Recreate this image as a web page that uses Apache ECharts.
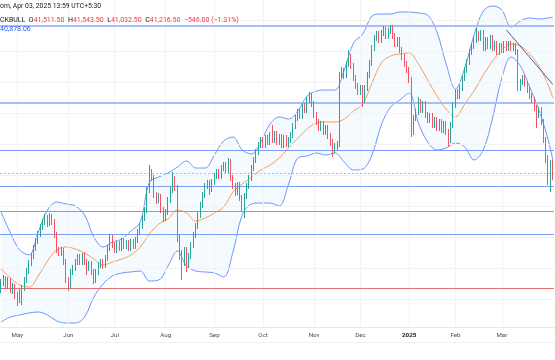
<!DOCTYPE html>
<html><head><meta charset="utf-8">
<script src="https://cdn.jsdelivr.net/npm/echarts@6/dist/echarts.min.js"></script>
<style>html,body{margin:0;padding:0;background:#fff}#c{width:555px;height:360px}</style>
</head><body><div id="c"></div>
<script>
// daily candles: [open, high, low, close]
const candles = [
[38290,38565,38215,38490],[38465,38665,38390,38590],[38565,38640,38315,38390],[38390,38615,38315,38540],
[38515,38590,38215,38290],[38290,38465,38190,38390],[38390,38440,38065,38140],[38165,38240,37890,38040],
[38040,38315,37965,38240],[38040,38415,37915,38340],[38340,38615,38265,38540],[38540,38840,38465,38765],
[38765,39040,38690,38965],[38965,39215,38890,39140],[39140,39415,39065,39340],[39340,39590,39265,39515],
[39515,39765,39440,39690],[39690,39940,39615,39865],[39865,40065,39790,39990],[39990,40190,39915,40090],
[40090,40165,39865,39940],[39965,40215,39890,40140],[40115,40190,39915,39990],[39990,40065,39590,39665],
[39665,39740,39215,39290],[39290,39365,39140,39215],[39215,39365,39140,39290],[39265,39340,38915,38990],
[38990,39065,38465,38540],[38540,38615,38265,38390],[38390,38815,38315,38740],[38740,38915,38665,38840],
[38840,39065,38765,38990],[38990,39190,38915,39115],[39115,39190,38915,38990],[38990,39215,38915,39140],
[39140,39240,38915,38990],[38990,39065,38665,38840],[38840,39015,38765,38940],[38940,39015,38665,38740],
[38740,38815,38440,38540],[38540,38815,38465,38740],[38740,38990,38665,38915],[38915,39065,38840,38990],
[38990,39065,38815,38890],[38915,39165,38840,39090],[39090,39415,39015,39340],[39340,39690,39265,39590],
[39590,39665,39340,39415],[39415,39490,39215,39290],[39290,39515,39215,39440],[39440,39515,39265,39340],
[39340,39590,39265,39515],[39515,39590,39315,39390],[39390,39540,39315,39465],[39465,39540,39265,39340],
[39340,39565,39265,39490],[39490,39565,39315,39390],[39390,39615,39315,39540],[39540,39815,39465,39740],
[39740,39965,39665,39890],[39890,40165,39815,40090],[40090,40365,40015,40290],[40290,40865,40215,40790],
[40790,41415,40715,41240],[41240,41315,41015,41090],[41090,41165,40590,40665],[40665,40740,40440,40540],
[40540,40715,40465,40640],[40615,40690,40215,40290],[40290,40365,39990,40090],[40090,40315,40015,40240],
[40240,40615,40165,40540],[40540,40865,40465,40790],[40790,41240,40715,41090],[41065,41140,40765,40840],
[40840,40915,39490,39590],[39590,39665,39040,39165],[39165,39290,38540,38965],[38965,39365,38890,39290],
[39290,39365,38740,38915],[38915,39215,38840,39140],[39140,39490,39065,39415],[39415,39740,39340,39665],
[39665,39965,39590,39890],[39890,40240,39815,40165],[40165,40490,40090,40415],[40415,40740,40340,40665],
[40665,40965,40590,40890],[40890,41040,40815,40965],[40965,41040,40665,40815],[40815,41065,40740,40990],
[40990,41215,40915,41140],[41140,41315,41065,41240],[41240,41315,41065,41140],[41140,41415,41065,41340],
[41340,41490,41265,41415],[41415,41490,41215,41290],[41290,41590,41215,41490],[41490,41565,41015,41090],
[41090,41165,40815,40890],[40890,40965,40640,40740],[40740,40990,40665,40915],[40915,40990,40515,40590],
[40590,40665,40240,40390],[40390,40715,40090,40640],[40640,40965,40565,40890],[40890,41165,40815,41090],
[41090,41415,41015,41340],[41340,41615,41265,41540],[41540,41815,41465,41740],[41740,41990,41665,41915],
[41915,42115,41840,42040],[42040,42115,41840,41915],[41915,42165,41840,42090],[42090,42165,41915,41990],
[41990,42240,41915,42165],[42165,42415,41965,42040],[42040,42265,41965,42190],[42190,42265,41915,41990],
[41990,42190,41915,42115],[42115,42190,41840,41915],[41915,42165,41840,42090],[42090,42165,41865,41940],
[41940,42115,41865,42040],[42040,42240,41965,42165],[42165,42465,42090,42390],[42390,42665,42315,42590],
[42590,42815,42515,42740],[42740,42815,42565,42640],[42640,42965,42565,42890],[42890,42965,42715,42790],
[42790,43115,42715,43040],[43040,43240,42965,43140],[43140,43215,42865,42940],[42940,43015,42590,42665],
[42665,42740,42415,42490],[42490,42565,42265,42340],[42340,42515,42265,42440],[42440,42515,42165,42240],
[42240,42415,42165,42340],[42340,42415,42065,42140],[42140,42215,41890,41990],[41990,42065,41615,41790],
[41790,41965,41715,41890],[41890,42015,41790,41940],[41940,43740,41865,43665],[43665,43865,43590,43790],
[43765,43840,43565,43640],[43665,44015,43590,43940],[43940,44290,43865,44140],[44115,44190,43815,43890],
[43890,43965,43515,43590],[43590,43665,43315,43390],[43390,43465,43165,43240],[43240,43415,43165,43340],
[43340,43415,42865,43040],[43040,43415,42965,43340],[43340,43740,43265,43665],[43665,44040,43590,43965],
[43965,44415,43890,44340],[44340,44665,44265,44590],[44590,44765,44515,44690],[44690,44765,44465,44540],
[44540,44790,44465,44715],[44715,44890,44640,44790],[44790,44865,44565,44640],[44640,44840,44565,44765],
[44765,44915,44690,44840],[44840,44915,44565,44640],[44640,44715,44365,44440],[44440,44615,44365,44540],
[44540,44615,44215,44290],[44290,44365,44040,44115],[44115,44190,43865,43940],[43940,44015,43715,43790],
[43790,43865,43465,43540],[43540,43615,42115,42290],[42290,42665,42165,42590],[42590,42815,42515,42740],
[42740,43115,42665,43040],[42990,43065,42715,42790],[42790,43015,42715,42940],[42940,43015,42590,42665],
[42665,42740,42465,42540],[42540,42715,42465,42640],[42640,42715,42340,42415],[42415,42615,42340,42540],
[42540,42615,42265,42340],[42340,42565,42265,42490],[42490,42565,42215,42290],[42290,42515,42215,42440],
[42440,42515,42165,42240],[42240,42315,41865,42040],[42040,42490,41965,42415],[42415,42990,42340,42915],
[42915,43315,42840,43240],[43240,43315,43065,43140],[43140,43415,43065,43340],[43340,43665,43265,43590],
[43590,43865,43515,43790],[43790,44065,43715,43990],[43990,44315,43915,44240],[44240,44465,44165,44390],
[44390,44615,44315,44540],[44540,44840,44465,44690],[44690,44765,44515,44590],[44590,44790,44515,44715],
[44715,44790,44265,44340],[44340,44615,44265,44540],[44540,44615,44315,44390],[44390,44665,44315,44590],
[44590,44665,44265,44340],[44340,44515,44265,44440],[44440,44515,44165,44240],[44240,44465,44165,44390],
[44390,44465,44215,44290],[44290,44515,44215,44440],[44440,44515,44265,44340],[44340,44515,44265,44440],
[44440,44515,44265,44340],[44340,44465,44265,44390],[44390,44465,44165,44240],[44240,44315,43265,43340],
[43340,43565,43265,43490],[43490,43665,43415,43590],[43590,43665,43365,43440],[43440,43515,43215,43290],
[43290,43365,43065,43140],[43140,43215,42965,43040],[43040,43115,42765,42840],[42840,42915,42340,42665],
[42665,42865,42590,42790],[42790,42865,42415,42490],[42490,42565,41965,42040],[42040,42115,41465,41540],
[41590,41665,40915,41090],[41140,41540,40740,41465],[41511.5,41543.5,41032.5,41216.5]
];
// month labels: [bar index, label]
const monthTicks = [[7,'May'],[29,'Jun'],[49,'Jul'],[71,'Aug'],[92,'Sep'],[113,'Oct'],[135,'Nov'],[155,'Dec'],[176,'2025'],[196,'Feb'],[216,'Mar']];
// Bollinger band readings at these bar indices
const bandIdx = [0,4,8,12,16,20,24,28,32,36,40,44,48,52,56,60,64,68,72,76,80,84,88,92,96,100,104,108,112,116,120,124,128,132,136,140,144,148,152,156,160,164,168,172,176,180,184,188,192,196,200,204,208,212,216,220,224,228,232,236,238];
const bbUpper = [40240,39715,39290,39165,39740,40290,40490,40440,40390,40165,39615,39365,39490,39565,39765,39990,40990,41115,41215,41365,41515,41340,41340,41665,42015,42115,41790,41690,41990,42440,42615,42565,42765,43140,43265,43290,43290,43790,44465,44690,45140,45190,45190,45240,45240,45215,45165,44740,43940,43315,43840,44665,45265,45390,45290,44865,45015,45090,45065,45090,45115];
const bbBasis = [38815,38590,38415,38365,38640,39015,39290,39365,39315,39215,39065,38915,38990,39065,39165,39365,39690,39940,40065,40290,40215,40015,40090,40215,40365,40740,40940,41115,41290,41415,41590,41840,42090,42315,42465,42490,42490,42565,42765,42940,43465,43965,44140,44190,44215,43940,43540,43140,42815,42615,42940,43265,43665,44015,44290,44440,44390,44190,43890,43415,43090];
const bbLower = [37490,37615,37665,37715,37740,37665,37515,37465,37465,37615,38115,38440,38640,38715,38740,38765,38515,38540,38890,39265,38890,38765,38740,38715,38615,39240,40165,40440,40465,40465,40390,40940,41590,41640,41715,41665,41715,41490,41290,41315,41665,42415,42865,43040,43215,42465,41990,41790,41840,41965,41865,41540,41790,42590,43590,44115,43890,43365,42790,42040,41540];
// horizontal levels
const majorLevels = [44890, 42965];
const minorLevels = [41790, 40878, 40265, 39690];
const redLevel = 38340;
const trendline = [[218, 44790], [238, 43430]];
const gridPrices = [45040, 44265, 43490, 42715, 41940, 41165, 40390, 39615, 38840, 38065];
const priceMin = 37365, priceMax = 45540;
const headerTime = 'om, Apr 03, 2025 13:59 UTC+5:30';
const symbolName = 'CKBULL';
const changeText = '\u2212546.00 (\u22121.31%)';
const indicatorValue = '40,878.06';

const chart = echarts.init(document.getElementById('c'));
const cats = candles.map((_, i) => String(i));
const ohlc = candles.map(r => [r[0], r[3], r[2], r[1]]);
const pair = arr => arr.map((v, k) => [bandIdx[k], v]);
const fillData = bbUpper.map((u, k) => [bandIdx[k], u - bbLower[k]]);
const monthMap = {};
monthTicks.forEach(([i, l]) => { monthMap[i] = l; });
const fmt = v => v.toLocaleString('en-US', {minimumFractionDigits: 2, maximumFractionDigits: 2});
const last = candles[candles.length - 1];
const FONT = 'Roboto';
const HS = 7;
const headerLine = `{k|${symbolName}}  {k|O}{v|${fmt(last[0])}}  {k|H}{v|${fmt(last[1])}}  {k|L}{v|${fmt(last[2])}}  {k|C}{v|${fmt(last[3])}}  {v|${changeText}}`;

const noSym = ['none', 'none'];
const option = {
  animation: false,
  backgroundColor: '#ffffff',
  title: [
    {text: headerTime, left: 0, top: 3, padding: 0, textStyle: {fontSize: 6.8, fontWeight: 'normal', color: '#131722', fontFamily: FONT}},
    {text: headerLine, left: 0, top: 17, padding: 0, textStyle: {fontSize: HS, fontWeight: 'normal', fontFamily: FONT,
      rich: {k: {color: '#131722', fontSize: HS, fontFamily: FONT}, v: {color: '#f23645', fontSize: HS, fontFamily: FONT}}}},
    {text: indicatorValue, left: 0, top: 26, padding: 0, textStyle: {fontSize: HS, fontWeight: 'normal', color: '#2962ff', fontFamily: FONT}}
  ],
  graphic: [{type: 'line', shape: {x1: 0, y1: 342.5, x2: 555, y2: 342.5}, style: {stroke: '#eef0f3', lineWidth: 1}, silent: true}],
  grid: {left: 0, right: 1, top: 0, bottom: 33},
  xAxis: {
    type: 'category', data: cats, boundaryGap: true,
    axisLine: {show: true, lineStyle: {color: '#e6e8ee'}},
    axisTick: {show: false},
    splitLine: {show: false},
    axisLabel: {
      interval: (i) => monthMap[i] !== undefined,
      formatter: (v, i) => monthMap[i] === '2025' ? '{y|2025}' : (monthMap[i] || ''),
      fontSize: 6.2, color: '#4a4d57', margin: 5, fontFamily: FONT,
      rich: {y: {fontSize: 6.2, color: '#131722', fontWeight: 'bold', fontFamily: FONT}}
    }
  },
  yAxis: {type: 'value', min: priceMin, max: priceMax, show: false, scale: true},
  series: [
    {
      name: 'bbBase', type: 'line', data: pair(bbLower), stack: 'bb', smooth: 0.35,
      showSymbol: false, lineStyle: {opacity: 0}, silent: true, z: 1,
      markLine: {
        silent: true, symbol: noSym, label: {show: false}, animation: false,
        lineStyle: {color: '#f1f3f7', width: 1, type: 'solid'},
        data: monthTicks.map(([i]) => ({xAxis: i})).concat(gridPrices.map(p => ({yAxis: p})))
      }
    },
    {
      name: 'bbFill', type: 'line', data: fillData, stack: 'bb', smooth: 0.35,
      showSymbol: false, lineStyle: {opacity: 0}, silent: true, z: 2,
      areaStyle: {color: 'rgba(33,150,243,0.075)'}
    },
    {name: 'upper', type: 'line', data: pair(bbUpper), smooth: 0.35, showSymbol: false, silent: true, z: 3,
      lineStyle: {color: '#6e96f6', width: 1}},
    {name: 'lower', type: 'line', data: pair(bbLower), smooth: 0.35, showSymbol: false, silent: true, z: 3,
      lineStyle: {color: '#6e96f6', width: 1}},
    {name: 'basis', type: 'line', data: pair(bbBasis), smooth: 0.35, showSymbol: false, silent: true, z: 3,
      lineStyle: {color: '#f5a05c', width: 1}},
    {
      name: 'price', type: 'candlestick', data: ohlc, barWidth: '55%', z: 5,
      itemStyle: {color: '#26a69a', color0: '#f7525f', borderColor: '#26a69a', borderColor0: '#f7525f', borderWidth: 1},
      markLine: {
        silent: true, symbol: noSym, label: {show: false}, animation: false,
        data: [
          ...majorLevels.map(p => ({yAxis: p, lineStyle: {color: '#a7bff7', width: 2, type: 'solid'}})),
          ...minorLevels.map(p => ({yAxis: p, lineStyle: {color: '#7b9df5', width: 1.2, type: 'solid'}})),
          {yAxis: redLevel, lineStyle: {color: '#e46f6f', width: 1.2, type: 'solid'}},
          {yAxis: last[3], lineStyle: {color: '#f4a3a3', width: 1, type: [2, 2]}},
          [{coord: trendline[0], lineStyle: {color: '#4f5f93', width: 1, type: 'solid'}}, {coord: trendline[1]}]
        ]
      }
    }
  ]
};
chart.setOption(option);
</script>
</body></html>
